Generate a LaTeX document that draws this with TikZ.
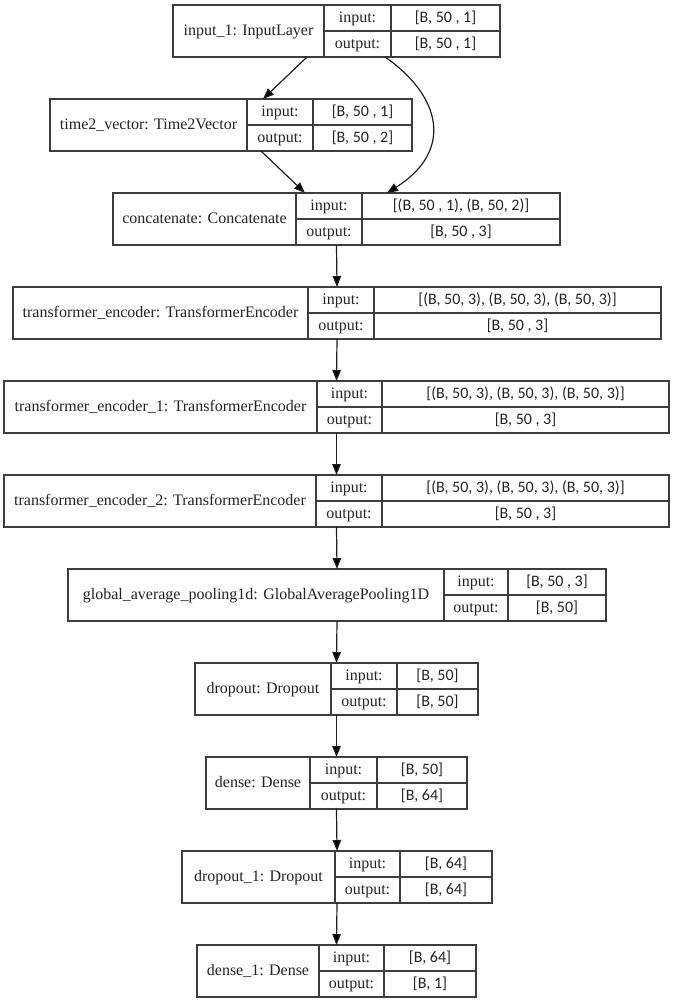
\documentclass[tikz,border=0pt]{standalone}
\usepackage{fontspec}
\setmainfont{Liberation Serif}
\newfontfamily\shapefont{Carlito}
\usetikzlibrary{arrows.meta,calc}

\definecolor{rulegray}{gray}{0.24}
\definecolor{inkgray}{gray}{0.14}
\definecolor{flowgray}{gray}{0.12}

\tikzset{
  layer/.style={draw=rulegray, line width=1.2pt, inner sep=0pt, outer sep=0pt},
  rule/.style={draw=rulegray, line width=1.2pt},
  txt/.style={inner sep=0pt, text=inkgray, text height=12.5pt, text depth=3pt,
              font=\fontsize{16}{19}\selectfont},
  lbl/.style={txt},
  port/.style={txt},
  shp/.style={txt, font=\shapefont\fontsize{16}{19}\selectfont},
  flow/.style={draw=flowgray, line width=1.2pt,
               -{Triangle[length=11pt,width=8.5pt,fill=black]}},
}

% One layer: name, x-left, x-right, y-top, first divider, second divider,
% layer label, input shape, output shape (boxes are 52 units tall)
\newcommand{\layerbox}[9]{%
  \pgfmathsetmacro\lbYb{#4+52}%
  \pgfmathsetmacro\lbYm{#4+26}%
  \pgfmathsetmacro\lbCx{(#2+#3)/2}%
  \node[layer, minimum width={#3-#2}, minimum height=52] (#1) at (\lbCx,\lbYm) {};
  \draw[rule] (#5,#4) -- (#5,\lbYb);
  \draw[rule] (#6,#4) -- (#6,\lbYb);
  \draw[rule] (#5,\lbYm) -- (#3,\lbYm);
  \node[lbl] (#1-name) at ({(#2+#5)/2},\lbYm) {#7};
  \node[port] (#1-in) at ({(#5+#6)/2},{#4+13}) {input:};
  \node[port] (#1-out) at ({(#5+#6)/2},{#4+39}) {output:};
  \node[shp] (#1-inv) at ({(#6+#3)/2},{#4+13}) {#8};
  \node[shp] (#1-outv) at ({(#6+#3)/2},{#4+39}) {#9};
}

\begin{document}
\begin{tikzpicture}[x=1pt, y=-1pt]
  \fill[white] (0,0) rectangle (676,1004);
  \useasboundingbox (0,0) rectangle (676,1004);

  \layerbox{inp}{173}{500}{5}{324}{391}{input\_1: InputLayer}{[B, 50 , 1]}{[B, 50 , 1]}
  \layerbox{tv}{50}{412}{99}{247}{313}{time2\_vector: Time2Vector}{[B, 50 , 1]}{[B, 50 , 2]}
  \layerbox{cat}{113}{560}{193}{296}{362}{concatenate: Concatenate}{[(B, 50 , 1), (B, 50, 2)]}{[B, 50 , 3]}
  \layerbox{te}{13}{661}{287}{308}{374}{transformer\_encoder: TransformerEncoder}{[(B, 50, 3), (B, 50, 3), (B, 50, 3)]}{[B, 50 , 3]}
  \layerbox{teA}{4}{669}{381}{317}{382}{transformer\_encoder\_1: TransformerEncoder}{[(B, 50, 3), (B, 50, 3), (B, 50, 3)]}{[B, 50 , 3]}
  \layerbox{teB}{4}{669}{475}{316}{382}{transformer\_encoder\_2: TransformerEncoder}{[(B, 50, 3), (B, 50, 3), (B, 50, 3)]}{[B, 50 , 3]}
  \layerbox{gap}{68}{606}{569}{444}{508}{global\_average\_pooling1d: GlobalAveragePooling1D}{[B, 50 , 3]}{[B, 50]}
  \layerbox{drop}{195}{478}{663}{331}{397}{dropout: Dropout}{[B, 50]}{[B, 50]}
  \layerbox{dense}{206}{467}{757}{310}{377}{dense: Dense}{[B, 50]}{[B, 64]}
  \layerbox{dropA}{182}{492}{851}{335}{400}{dropout\_1: Dropout}{[B, 64]}{[B, 64]}
  \layerbox{denseA}{197}{476}{945}{319}{384}{dense\_1: Dense}{[B, 64]}{[B, 1]}

  % branching connectors at the top
  \coordinate (inpL) at ($(inp.south)+(-29.5,0)$);
  \coordinate (inpR) at ($(inp.south)+(48.5,0)$);
  \coordinate (tvIn) at ($(tv.north)+(32,0)$);
  \coordinate (tvOut) at ($(tv.south)+(30,0)$);
  \coordinate (catL) at ($(cat.north)+(-31.5,0)$);
  \coordinate (catR) at ($(cat.north)+(50.5,0)$);

  \draw[flow] (inpL) -- (tvIn);
  \draw[flow] (inpR) .. controls ($(inpR)+(55,38)$) and ($(catR)+(68,-43)$) .. (catR);
  \draw[flow] (tvOut) -- (catL);

  % straight chain below
  \draw[flow] (cat.south) -- (te.north);
  \draw[flow] (te.south) -- (teA.north);
  \draw[flow] (teA.south) -- (teB.north);
  \draw[flow] (teB.south) -- (gap.north);
  \draw[flow] (gap.south) -- (drop.north);
  \draw[flow] (drop.south) -- (dense.north);
  \draw[flow] (dense.south) -- (dropA.north);
  \draw[flow] (dropA.south) -- (denseA.north);
\end{tikzpicture}
\end{document}
